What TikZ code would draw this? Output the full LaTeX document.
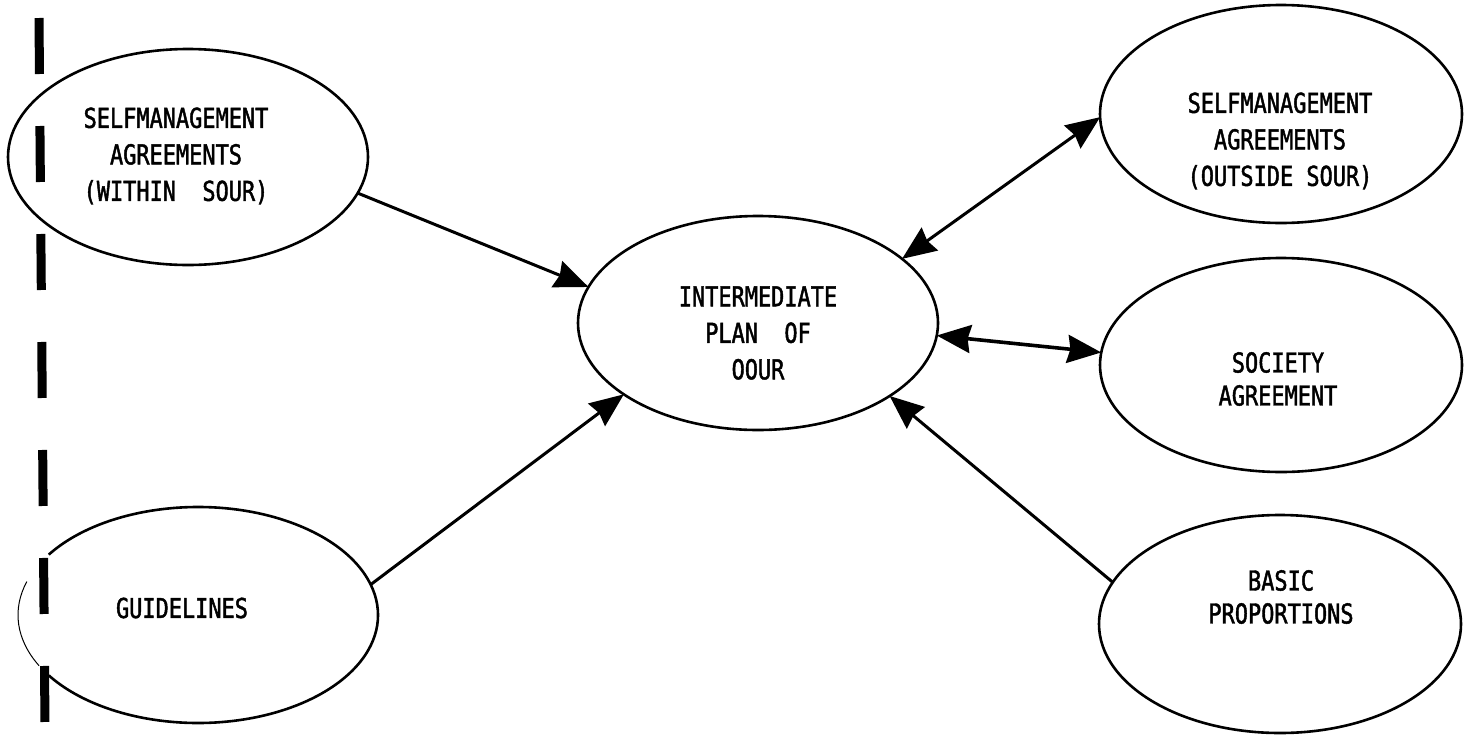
\documentclass[tikz,border=0pt]{standalone}
\usepackage{fontspec}
\usetikzlibrary{shapes.geometric,arrows.meta}
% narrow typewriter-like capitals
\newfontfamily\typer[FakeStretch=0.8,FakeBold=1.6]{DejaVu Sans Mono}
\begin{document}
\begin{tikzpicture}[x=1pt,y=-1pt,
  bubble/.style={ellipse,draw,line width=2.6pt,inner sep=0pt,outer sep=0pt,
    minimum width=360pt,minimum height=216pt},
  caption/.style={align=center,inner sep=0pt,
    font=\typer\fontsize{27.4}{36.5}\selectfont},
  caption2/.style={align=center,inner sep=0pt,
    font=\typer\fontsize{27.4}{33}\selectfont},
  tipshape/.tip={Stealth[length=34pt,width=28pt,inset=3pt]},
  link/.style={line width=3pt,-tipshape},
  twoway/.style={line width=3pt,tipshape-tipshape},
  fence/.style={line width=9pt,dash pattern=on 56pt off 52pt}]
\useasboundingbox (0,0) rectangle (1469,734);

% ellipses
\node[bubble] (within) at (188,157) {};
\node[bubble, draw=none] (guide) at (198,615) {};
\node[bubble, minimum height=214pt] (plan) at (758,323) {};
\node[bubble, minimum width=362pt, minimum height=218pt] (outside) at (1281,114) {};
\node[bubble, minimum width=362pt, minimum height=214pt] (society) at (1281,365) {};
\node[bubble, minimum width=362pt, minimum height=218pt] (basic) at (1280,624) {};

% the guidelines ellipse: firm on the right, faint on the left
\draw[line width=2.6pt] ([shift={(146:180pt and 108pt)}]guide.center)
  arc[start angle=146, end angle=-146, x radius=180pt, y radius=108pt];
\draw[line width=1pt] ([shift={(162:180pt and 108pt)}]guide.center)
  arc[start angle=162, end angle=208, x radius=180pt, y radius=108pt];

% captions
\node[caption] (withinText) at (176,156)
  {SELFMANAGEMENT\\AGREEMENTS\\(WITHIN\ \ SOUR)};
\node[caption] (guideText) at (182,608) {GUIDELINES};
\node[caption] (planText) at (758,333)
  {INTERMEDIATE\\PLAN\ \ OF\\OOUR};
\node[caption] (outsideText) at (1280,141)
  {SELFMANAGEMENT\\AGREEMENTS\\(OUTSIDE SOUR)};
\node[caption2] (societyText) at (1278,379) {SOCIETY\\AGREEMENT};
\node[caption2] (basicText) at (1281,597) {BASIC\\PROPORTIONS};

% connectors
\draw[link] (within.-12.5) -- (plan.168.4);
\draw[link] (guide.10.2) -- (plan.208.2);
\draw[twoway] (plan.24.6) -- (outside.181);
\draw[twoway, line width=3.6pt] (plan.-4.8) -- (society.176.8);
\draw[link] (basic.166.6) -- (plan.-29.9);

% boundary line on the left
\coordinate (fenceTop) at (39,18);
\coordinate (fenceBot) at (45,725);
\draw[fence] (fenceTop) -- (fenceBot);
\end{tikzpicture}
\end{document}
